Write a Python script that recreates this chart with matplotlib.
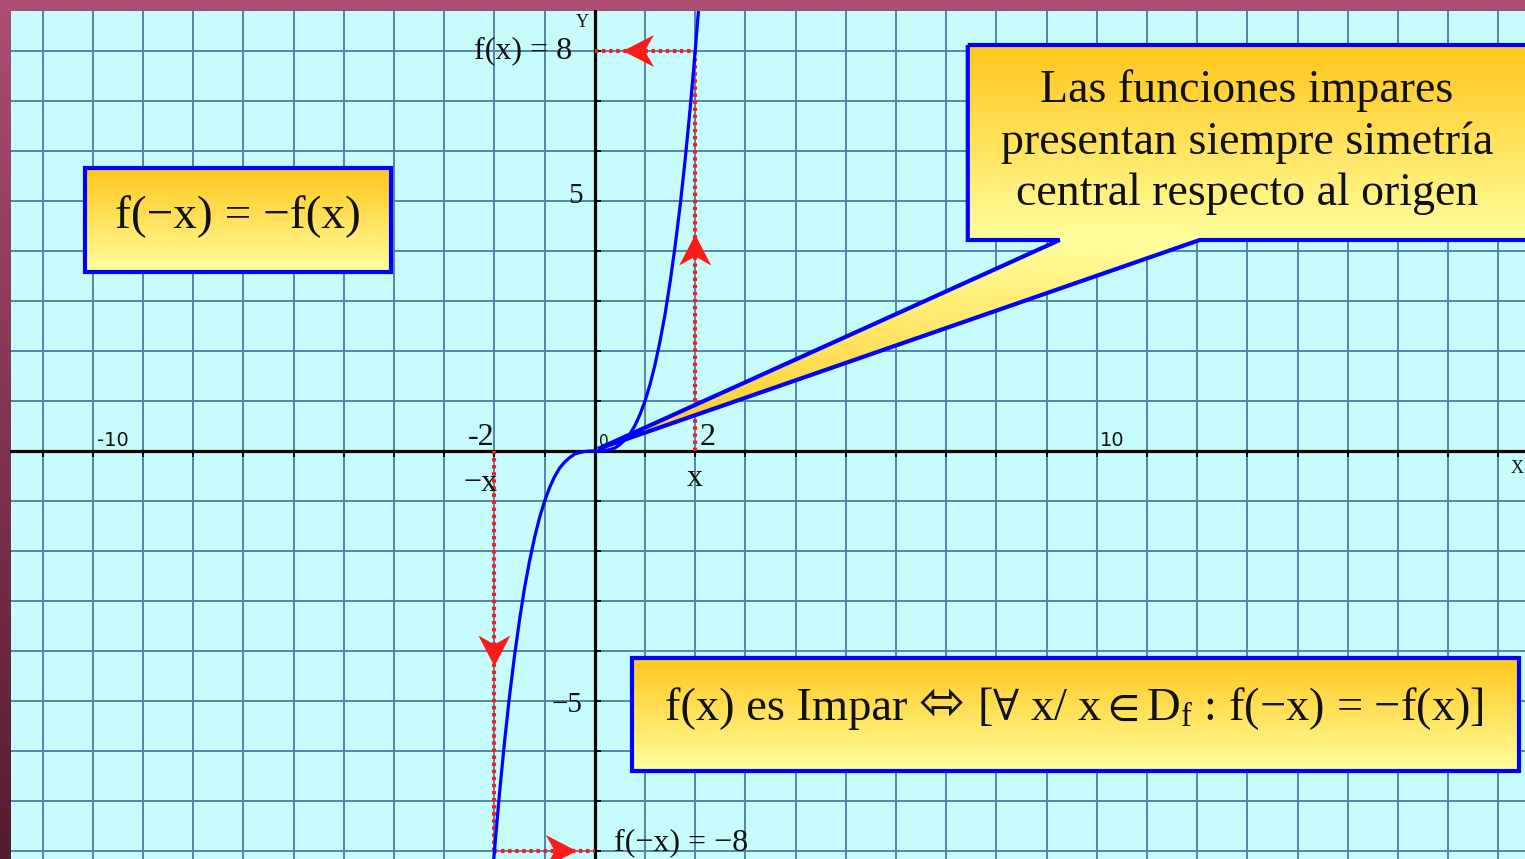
import numpy as np
import matplotlib.pyplot as plt
from matplotlib.patches import Polygon
from matplotlib.colors import to_rgb

# values (f(x) = x^3)
curve_x = [-2.02, -1.9, -1.8, -1.7, -1.6, -1.5, -1.4, -1.3, -1.2, -1.1, -1.0,
           -0.9, -0.8, -0.7, -0.6, -0.5, -0.4, -0.3, -0.2, -0.1, 0.0,
           0.1, 0.2, 0.3, 0.4, 0.5, 0.6, 0.7, 0.8, 0.9, 1.0,
           1.1, 1.2, 1.3, 1.4, 1.5, 1.6, 1.7, 1.8, 1.9, 2.0, 2.07]
curve_y = [-8.24, -6.86, -5.83, -4.91, -4.10, -3.38, -2.74, -2.20, -1.73, -1.33, -1.00,
           -0.73, -0.51, -0.34, -0.22, -0.13, -0.06, -0.03, -0.01, 0.00, 0.00,
           0.00, 0.01, 0.03, 0.06, 0.13, 0.22, 0.34, 0.51, 0.73, 1.00,
           1.33, 1.73, 2.20, 2.74, 3.38, 4.10, 4.91, 5.83, 6.86, 8.00, 8.87]

x_pos, fx_pos = 2, 8
x_neg, fx_neg = -2, -8

x_ticks = list(range(-11, 19))
y_ticks = list(range(-8, 9))

txt_box1 = 'f(−x) = −f(x)'
# box 3 is written in pieces so the double arrow can be larger
txt_box3 = ['f(x) es Impar', '⬄', r'[$\forall$ x/ x$\in$D$_{\mathrm{f}}$ : f(−x) = −f(x)]']
txt_callout = 'Las funciones impares\npresentan siempre simetría\ncentral respecto al origen'

SERIF = 'Liberation Serif'
plt.rcParams['mathtext.fontset'] = 'custom'
plt.rcParams['mathtext.rm'] = SERIF
plt.rcParams['mathtext.it'] = SERIF + ':italic'
plt.rcParams['mathtext.fallback'] = 'stix'

BG = '#c6fcfc'
GRID = '#5384ab'
BLUE = '#0000ff'
RED = '#ff1a1a'
ORANGE = '#ffc61c'
YELLOW = '#ffff9e'
INK = '#111111'

# pixels per data unit (for arrow heads)
XS, YS = 50.2, 50.0

fig = plt.figure(figsize=(15.25, 8.59), dpi=100)

# maroon frame behind the plot
bg = fig.add_axes([0, 0, 1, 1], zorder=-10)
top_c, bot_c = np.array(to_rgb('#ad4c75')), np.array(to_rgb('#561c30'))
t = np.linspace(0, 1, 100)[:, None]
bg.imshow((top_c * (1 - t) + bot_c * t)[:, None, :], aspect='auto', extent=(0, 1, 0, 1))
bg.axis('off')

ax = fig.add_axes([11 / 1525, 0, 1514 / 1525, 848 / 859])
ax.set_facecolor(BG)
ax.set_xlim(-11.63, 18.53)
ax.set_ylim(-8.16, 8.8)

ax.set_xticks(x_ticks)
ax.set_yticks(y_ticks)
ax.set_xticklabels([])
ax.set_yticklabels([])
ax.grid(True, color=GRID, lw=1.4)
ax.set_axisbelow(True)
for s in ['top', 'right']:
    ax.spines[s].set_visible(False)
for s in ['left', 'bottom']:
    ax.spines[s].set_position(('data', 0))
    ax.spines[s].set_linewidth(2.3)
    ax.spines[s].set_color('black')
ax.tick_params(axis='x', direction='out', length=4, width=1.4, color='black')
ax.tick_params(axis='y', direction='in', length=4, width=1.4, color='black')

# red guide lines
dot = dict(color=RED, lw=3.0, linestyle=(0, (0.8, 0.9)), zorder=3)
ax.plot([x_pos, x_pos], [0, fx_pos], **dot)
ax.plot([0, x_pos], [fx_pos, fx_pos], **dot)
ax.plot([x_neg, x_neg], [0, fx_neg], **dot)
ax.plot([x_neg, 0], [fx_neg, fx_neg], **dot)


def arrow_head(tip, d):
    ux, uy = d
    px, py = -uy, ux
    L, W, N = 31, 16, 9
    pts = [(0, 0), (-L * ux + W * px, -L * uy + W * py),
           (-(L - N) * ux, -(L - N) * uy), (-L * ux - W * px, -L * uy - W * py)]
    verts = [(tip[0] + a / XS, tip[1] + b / YS) for a, b in pts]
    ax.add_patch(Polygon(verts, closed=True, color=RED, lw=0, zorder=3.5))


arrow_head((0.56, fx_pos), (-1, 0))
arrow_head((x_pos, 4.33), (0, 1))
arrow_head((x_neg, -4.31), (0, -1))
arrow_head((-0.36, fx_neg), (1, 0))

# the curve
ax.plot(curve_x, curve_y, color=BLUE, lw=2.3, zorder=4, solid_capstyle='butt')


def gradient_shape(verts, t_of_y, zorder=6):
    poly = Polygon(verts, closed=True, facecolor='none', edgecolor=BLUE,
                   lw=3.0, joinstyle='miter', zorder=zorder + 0.1)
    ax.add_patch(poly)
    xs = [v[0] for v in verts]
    ys = [v[1] for v in verts]
    yy = np.linspace(max(ys), min(ys), 300)
    tt = np.clip(t_of_y(yy), 0, 1)[:, None]
    c0, c1 = np.array(to_rgb(ORANGE)), np.array(to_rgb(YELLOW))
    img = c0 * (1 - tt) + c1 * tt
    im = ax.imshow(img[:, None, :], extent=(min(xs), max(xs), min(ys), max(ys)),
                   aspect='auto', zorder=zorder, interpolation='bilinear')
    im.set_clip_path(poly)


# box 1
b1 = (-10.16, -4.06, 3.58, 5.66)
gradient_shape([(b1[0], b1[2]), (b1[1], b1[2]), (b1[1], b1[3]), (b1[0], b1[3])],
               lambda y: (b1[3] - y) / (b1[3] - b1[2]))
ax.text((b1[0] + b1[1]) / 2, 4.68, txt_box1, family=SERIF, fontsize=34,
        ha='center', va='center', color=INK, zorder=8)

# box 3
b3 = (0.74, 18.41, -6.4, -4.14)
gradient_shape([(b3[0], b3[2]), (b3[1], b3[2]), (b3[1], b3[3]), (b3[0], b3[3])],
               lambda y: (b3[3] - y) / (b3[3] - b3[2]))
renderer = fig.canvas.get_renderer()
x_cur = 1.39
base_y = -5.38
piece_style = [dict(family=SERIF, fontsize=33.5),
               dict(family=['DejaVu Sans', 'STIXGeneral'], fontsize=40),
               dict(family=SERIF, fontsize=33.5)]
gaps = [12, 12, 0]
for piece, st, gap in zip(txt_box3, piece_style, gaps):
    tx = ax.text(x_cur, base_y, piece, ha='left', va='baseline', color=INK,
                 zorder=8, **st)
    bb = tx.get_window_extent(renderer)
    x_cur = ax.transData.inverted().transform((bb.x1 + gap, 0))[0]

# callout
c_top, c_bot = 8.12, 4.22
callout = [(7.43, c_top), (19.5, c_top), (19.5, c_bot), (12.05, c_bot),
           (0.06, 0.04), (9.26, c_bot), (7.43, c_bot)]


def callout_t(y):
    return np.where(y >= c_bot, (c_top - y) / (c_top - c_bot), y / c_bot)


gradient_shape(callout, callout_t)
ax.text(12.99, 6.17, txt_callout, family=SERIF, fontsize=33, linespacing=1.28,
        ha='center', va='center', color=INK, zorder=8)

# axis labels and point labels
ax.text(-0.12, 8.58, 'Y', family=SERIF, fontsize=13, ha='right', va='center', color=INK)
ax.text(18.5, -0.34, 'X', family=SERIF, fontsize=13, ha='right', va='center', color=INK)
ax.text(-9.92, 0.1, '-10', fontsize=14, ha='left', va='baseline', color=INK)
ax.text(10.06, 0.1, '10', fontsize=14, ha='left', va='baseline', color=INK)
ax.text(0.08, 0.1, '0', fontsize=11, ha='left', va='baseline', color=INK)
ax.text(-0.24, 5.1, '5', family=SERIF, fontsize=21, ha='right', va='center', color=INK)
ax.text(-0.24, -5.08, '−5', family=SERIF, fontsize=21, ha='right', va='center', color=INK)
ax.text(-2.0, 0.12, '-2', family=SERIF, fontsize=23, ha='right', va='baseline', color=INK)
ax.text(2.09, 0.12, '2', family=SERIF, fontsize=23, ha='left', va='baseline', color=INK)
ax.text(-1.95, -0.64, '−x', family=SERIF, fontsize=23, ha='right', va='center', color=INK)
ax.text(2.0, -0.54, 'x', family=SERIF, fontsize=23, ha='center', va='center', color=INK)
ax.text(-0.46, 8.0, 'f(x) = 8', family=SERIF, fontsize=23, ha='right', va='center', color=INK)
ax.text(0.38, -7.84, 'f(−x) = −8', family=SERIF, fontsize=23, ha='left', va='center', color=INK)

fig.savefig('out.png', dpi=100)
